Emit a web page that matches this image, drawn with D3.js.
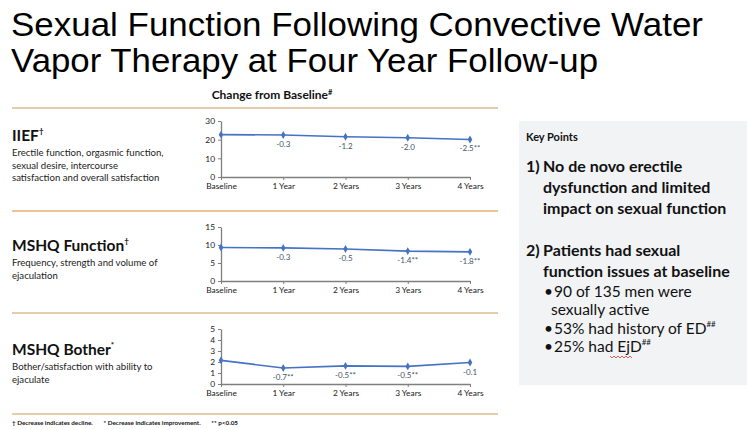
<!DOCTYPE html>
<html><head><meta charset="utf-8">
<script src="https://cdn.jsdelivr.net/npm/d3@7"></script>
<style>
html,body{margin:0;padding:0;background:#fff;}
svg{display:block;}
</style></head>
<body>
<svg id="c" width="750" height="430"></svg>
<script>
const categories = ["Baseline", "1 Year", "2 Years", "3 Years", "4 Years"];
const iiefValues = [22.7, 22.5, 21.6, 21.0, 20.1];
const iiefLabels = ["", "-0.3", "-1.2", "-2.0", "-2.5**"];
const iiefTicks = [0, 10, 20, 30];
const functionValues = [9.3, 9.2, 8.9, 8.3, 8.1];
const functionLabels = ["", "-0.3", "-0.5", "-1.4**", "-1.8**"];
const functionTicks = [0, 5, 10, 15];
const botherValues = [2.15, 1.45, 1.65, 1.6, 1.95];
const botherLabels = ["", "-0.7**", "-0.5**", "-0.5**", "-0.1"];
const botherTicks = [0, 1, 2, 3, 4, 5];

const svg = d3.select("#c");
const bodyFont = "Lato, 'Noto Sans', sans-serif";

// Title
const title = svg.append("g").attr("font-family", "'Liberation Sans', Arial, sans-serif").attr("font-size", 34).attr("fill", "#000");
title.append("text").attr("x", 11).attr("y", 36).attr("textLength", 692).attr("lengthAdjust", "spacingAndGlyphs").text("Sexual Function Following Convective Water");
title.append("text").attr("x", 11).attr("y", 72).attr("textLength", 587).attr("lengthAdjust", "spacingAndGlyphs").text("Vapor Therapy at Four Year Follow-up");

// Subheading
const sub = svg.append("text").attr("x", 272).attr("y", 99).attr("text-anchor", "middle")
  .attr("font-family", bodyFont).attr("font-weight", "bold").attr("font-size", 12).attr("fill", "#111");
sub.append("tspan").text("Change from Baseline");
sub.append("tspan").attr("font-size", 7.5).attr("dy", -4).text("#");

// Separator lines
[108, 211, 313, 414].forEach((y, i) => {
  svg.append("line").attr("x1", 12).attr("x2", 498).attr("y1", y).attr("y2", y)
    .attr("stroke", i === 1 ? "#e8b070" : "#dcbc8c").attr("stroke-width", 1.6);
});

// Left labels
function leftBlock(y, head, sup, lines) {
  const t = svg.append("text").attr("x", 12).attr("y", y).attr("font-family", bodyFont)
    .attr("font-weight", "bold").attr("font-size", 15.5).attr("fill", "#111");
  t.append("tspan").text(head);
  t.append("tspan").attr("font-size", 8).attr("dy", -7).text(sup);
  lines.forEach((l, i) => {
    svg.append("text").attr("x", 12).attr("y", y + 15 + i * 12.5).attr("font-family", bodyFont)
      .attr("font-size", 9.6).attr("fill", "#222").text(l);
  });
}
leftBlock(141, "IIEF", "†", ["Erectile function, orgasmic function,", "sexual desire, intercourse", "satisfaction and overall satisfaction"]);
leftBlock(251, "MSHQ Function", "†", ["Frequency, strength and volume of", "ejaculation"]);
leftBlock(355, "MSHQ Bother", "*", ["Bother/satisfaction with ability to", "ejaculate"]);

// Charts
const x = d3.scalePoint().domain(categories).range([221, 470]);
function chart(values, labels, ticks, yTop, yBottom) {
  const y = d3.scaleLinear().domain([ticks[0], ticks[ticks.length - 1]]).range([yBottom, yTop]);
  const g = svg.append("g");
  const ya = g.append("g").attr("transform", `translate(${x.range()[0]},0)`)
    .call(d3.axisLeft(y).tickValues(ticks).tickFormat(d3.format("d")).tickSize(3).tickSizeOuter(0));
  const xa = g.append("g").attr("transform", `translate(0,${yBottom})`)
    .call(d3.axisBottom(x).tickSize(3).tickSizeOuter(0).tickPadding(3));
  [ya, xa].forEach(a => {
    a.select(".domain").attr("stroke", "#7f7f7f").attr("stroke-width", 1.3);
    a.selectAll(".tick line").attr("stroke", "#7f7f7f");
    a.selectAll("text").attr("font-family", bodyFont).attr("font-size", 8.4).attr("fill", "#1a1a1a");
  });
  const line = d3.line().x((d, i) => x(categories[i])).y(d => y(d));
  g.append("path").datum(values).attr("d", line).attr("fill", "none").attr("stroke", "#4472c4").attr("stroke-width", 1.6);
  g.selectAll(".pt").data(values).enter().append("path")
    .attr("d", d3.symbol().type(d3.symbolDiamond).size(18))
    .attr("transform", (d, i) => `translate(${x(categories[i])},${y(d)})`)
    .attr("fill", "#4472c4");
  g.selectAll(".lb").data(labels).enter().append("text")
    .attr("x", (d, i) => x(categories[i]))
    .attr("y", (d, i) => y(values[i]) + 12)
    .attr("text-anchor", "middle").attr("font-family", bodyFont).attr("font-size", 8)
    .attr("fill", "#44546a").text(d => d);
}
chart(iiefValues, iiefLabels, iiefTicks, 121, 177);
chart(functionValues, functionLabels, functionTicks, 227, 281);
chart(botherValues, botherLabels, botherTicks, 329, 384);

// Footer
svg.append("text").attr("x", 12).attr("y", 425).attr("font-family", bodyFont).attr("font-weight", "bold")
  .attr("font-size", 6.3).attr("fill", "#111").attr("xml:space", "preserve")
  .text("† Decrease indicates decline.       * Decrease indicates improvement.       ** p<0.05");

// Key points box
svg.append("rect").attr("x", 519).attr("y", 121).attr("width", 228).attr("height", 264).attr("fill", "#f2f3f5");
svg.append("text").attr("x", 526).attr("y", 141).attr("font-family", bodyFont).attr("font-weight", "bold")
  .attr("font-size", 11).attr("fill", "#111").text("Key Points");
const kp = svg.append("g").attr("font-family", bodyFont).attr("fill", "#111");
function num(yy, n, lines) {
  kp.append("text").attr("x", 526).attr("y", yy).attr("font-weight", "bold").attr("font-size", 16).text(n);
  lines.forEach((l, i) => kp.append("text").attr("x", 543).attr("y", yy + i * 21)
    .attr("font-weight", "bold").attr("font-size", 16).text(l));
}
num(172, "1)", ["No de novo erectile", "dysfunction and limited", "impact on sexual function"]);
num(256, "2)", ["Patients had sexual", "function issues at baseline"]);
function bullet(yy, txt, sup, cont) {
  const t = kp.append("text").attr("x", 544).attr("y", yy).attr("font-size", 15.5).attr("xml:space", "preserve");
  t.append("tspan").text("•");
  t.append("tspan").attr("dx", 1).text(txt);
  if (sup) t.append("tspan").attr("font-size", 8).attr("dy", -7).text(sup);
  if (cont) kp.append("text").attr("x", 551).attr("y", yy + 18).attr("font-size", 15.5).text(cont);
}
bullet(297, "90 of 135 men were", null, "sexually active");
bullet(334, "53% had history of ED", "##");
bullet(352, "25% had EjD", "##");
// spelling squiggle under EjD
kp.append("path").attr("d", "M610,356 l2,2 l2,-2 l2,2 l2,-2 l2,2 l2,-2 l2,2 l2,-2 l2,2 l2,-2 l2,2")
  .attr("fill", "none").attr("stroke", "#d04040").attr("stroke-width", 0.8);
</script>
</body></html>
